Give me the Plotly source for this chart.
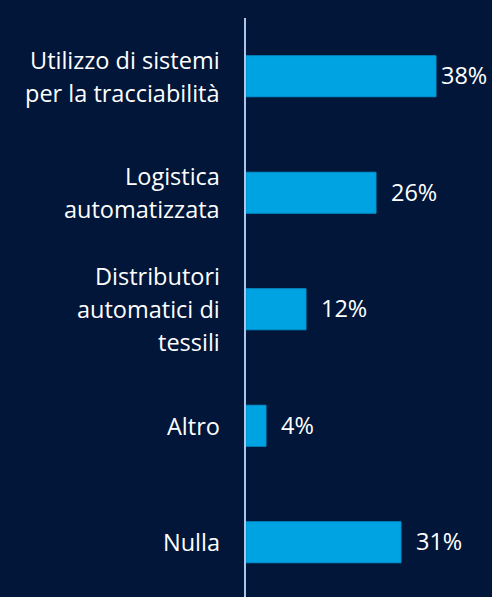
import plotly.graph_objects as go

categories = [
    "Utilizzo di sistemi\nper la tracciabilità",
    "Logistica\nautomatizzata",
    "Distributori\nautomatici di\ntessili",
    "Altro",
    "Nulla",
]
values = [38, 26, 12, 4, 31]
value_labels = ["38%", "26%", "12%", "4%", "31%"]

BG = "#011638"
BAR = "#00a3e2"
FONT = "Open Sans"

fig = go.Figure(
    go.Bar(
        x=values,
        y=categories,
        orientation="h",
        width=0.352,
        marker=dict(color=BAR, line=dict(color="#0092cf", width=1)),
        hoverinfo="skip",
    )
)

annotations = []
line_h = 33
for cat in categories:
    lines = cat.split("\n")
    n = len(lines)
    for i, ln in enumerate(lines):
        annotations.append(dict(
            x=0, xref="paper", y=cat, yref="y",
            text=ln, showarrow=False, xanchor="right", yanchor="middle",
            xshift=-24, yshift=((n - 1) / 2 - i) * line_h,
            font=dict(family=FONT, size=23.5, color="white"),
        ))
vmax = max(values)
for cat, v, lab in zip(categories, values, value_labels):
    annotations.append(dict(
        x=v, xref="x", y=cat, yref="y", text=lab, showarrow=False,
        xanchor="left", yanchor="middle", xshift=13 if v < vmax else 3, yshift=1,
        font=dict(family=FONT, size=23.5, color="white"),
    ))

fig.update_layout(
    width=492, height=597,
    paper_bgcolor=BG, plot_bgcolor=BG,
    margin=dict(l=246, r=0, t=18, b=0),
    showlegend=False,
    annotations=annotations,
    xaxis=dict(range=[0, 49.2], showgrid=False, zeroline=False, showticklabels=False,
               fixedrange=True),
    yaxis=dict(range=[4.47, -0.5], showgrid=False, zeroline=False, showticklabels=False,
               showline=True, linecolor="#a9c6ef", linewidth=2, fixedrange=True),
)

fig.write_html("out.html", config={"displayModeBar": False},
               post_script="document.body.style.margin='0';document.body.style.background='#011638';")
